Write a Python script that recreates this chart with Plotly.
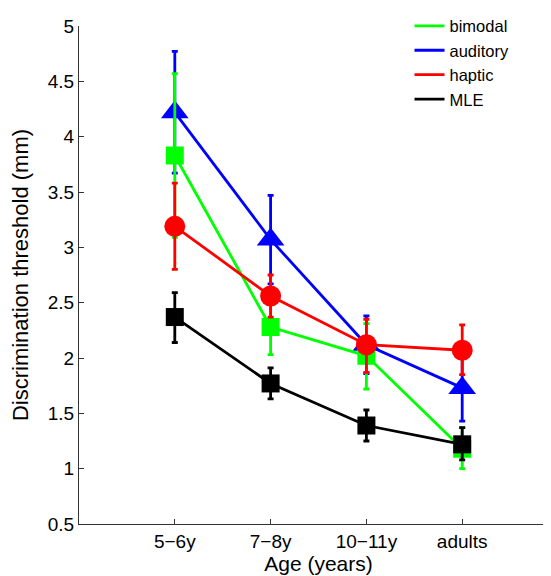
import plotly.graph_objects as go

categories = ["5−6y", "7−8y", "10−11y", "adults"]
x_pos = [1, 2, 3, 4]

auditory = [4.22, 3.07, 2.12, 1.73]
auditory_hi = [4.77, 3.47, 2.38, 2.03]
auditory_lo = [3.67, 2.67, 1.86, 1.43]

bimodal = [3.83, 2.28, 2.02, 1.18]
bimodal_hi = [4.57, 2.55, 2.31, 1.37]
bimodal_lo = [3.09, 2.03, 1.72, 1.00]

haptic = [3.19, 2.56, 2.12, 2.07]
haptic_hi = [3.58, 2.75, 2.35, 2.30]
haptic_lo = [2.80, 2.37, 1.87, 1.85]

mle = [2.37, 1.77, 1.39, 1.22]
mle_hi = [2.59, 1.91, 1.53, 1.37]
mle_lo = [2.14, 1.63, 1.25, 1.08]

y_ticks = [0.5, 1, 1.5, 2, 2.5, 3, 3.5, 4, 4.5, 5]
y_tick_text = ["0.5", "1", "1.5", "2", "2.5", "3", "3.5", "4", "4.5", "5"]

series = [
    ("auditory", auditory, auditory_hi, auditory_lo, "#0000FF", "triangle-up", 24),
    ("bimodal", bimodal, bimodal_hi, bimodal_lo, "#00FF00", "square", 18),
    ("haptic", haptic, haptic_hi, haptic_lo, "#FF0000", "circle", 21),
    ("MLE", mle, mle_hi, mle_lo, "#000000", "square", 18),
]

fig = go.Figure()
for name, vals, hi, lo, col, sym, sz in series:
    fig.add_trace(go.Scatter(
        x=x_pos, y=vals, mode="lines+markers", showlegend=False,
        line=dict(color=col, width=2.8),
        marker=dict(symbol=sym, size=sz, color=col, line=dict(width=0)),
        error_y=dict(type="data", symmetric=False,
                     array=[h - v for h, v in zip(hi, vals)],
                     arrayminus=[v - l for l, v in zip(lo, vals)],
                     color=col, thickness=2.8, width=3),
    ))

legend_order = ["bimodal", "auditory", "haptic", "MLE"]
colors = {s[0]: s[4] for s in series}
for name in legend_order:
    fig.add_trace(go.Scatter(
        x=[None], y=[None], mode="lines", name=name,
        line=dict(color=colors[name], width=2.8),
    ))

fig.update_layout(
    width=551, height=576,
    margin=dict(l=71, r=1, t=7, b=60),
    plot_bgcolor="white", paper_bgcolor="white",
    font=dict(family="Liberation Sans, Arial, sans-serif", size=19, color="#000"),
    showlegend=True,
    legend=dict(x=0.69, y=1.035, xanchor="left", yanchor="top",
                bgcolor="rgba(0,0,0,0)", font=dict(size=16.5),
                tracegroupgap=0),
)
fig.update_xaxes(
    range=[0, 5], tickvals=x_pos, ticktext=categories,
    showline=True, linecolor="#333", linewidth=1,
    ticks="inside", ticklen=5, tickcolor="#333",
    showgrid=False, zeroline=False,
    tickfont=dict(size=19),
    title=dict(text="Age (years)", font=dict(size=21), standoff=1),
)
fig.update_yaxes(
    range=[0.5, 5], tickvals=y_ticks, ticktext=y_tick_text,
    showline=True, linecolor="#333", linewidth=1,
    ticks="inside", ticklen=5, tickcolor="#333",
    showgrid=False, zeroline=False,
    title=dict(text="Discrimination threshold (mm)", font=dict(size=22), standoff=24),
)

fig.write_html("out.html")
